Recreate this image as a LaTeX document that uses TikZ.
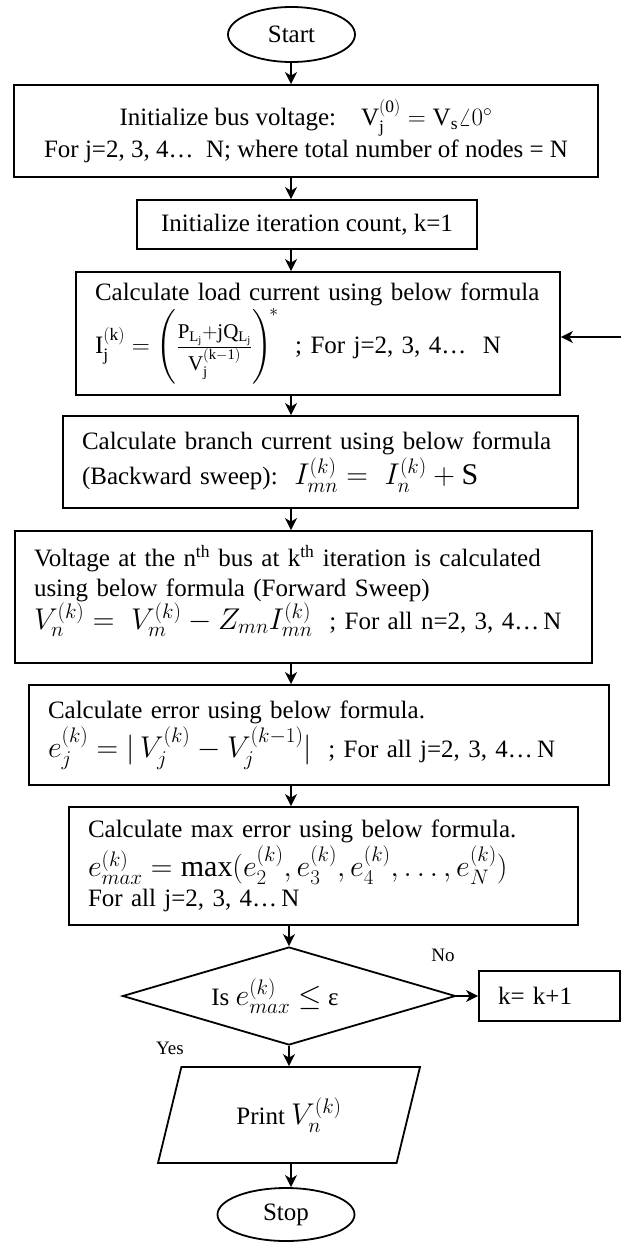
\RequirePackage{fix-cm}
\documentclass[tikz,border=0pt]{standalone}
\usepackage{amsmath}
\usepackage{fontspec}
\setmainfont{Liberation Serif}
\usetikzlibrary{shapes.geometric,arrows.meta}
\newcommand\bigmath[1]{{\fontsize{30}{30}\selectfont$#1$}}
\newcommand\fracpart[1]{\mbox{\fontsize{21}{21}\selectfont$#1$}}
\newcommand\ind{\hspace*{12pt}}
\begin{document}
\begin{tikzpicture}[x=1pt,y=-1pt,
  every node/.style={font=\fontsize{25}{30}\selectfont},
  box/.style={draw, line width=1.8pt, rectangle, inner ysep=0pt},
  lbox/.style={box, inner xsep=7pt, align=left},
  term/.style={draw, line width=1.8pt, ellipse, inner sep=0pt},
  arr/.style={line width=1.6pt, -{Stealth[length=12pt,width=12pt,inset=3.5pt]}},
  lbl/.style={font=\fontsize{19}{22}\selectfont}]
\useasboundingbox (0,0) rectangle (621,1242);
\coordinate (cx) at (291,0);

\node[term, minimum width=127pt, minimum height=55pt] (start) at (291.5,34.5) {Start};

\node[box, minimum width=584pt, minimum height=92pt, align=center] (b1) at (306,131)
 {Initialize bus voltage:\quad $\mathrm{V_j^{(0)}} = \mathrm{V_s}\angle 0^\circ$\\[2pt]
  For j=2, 3, 4…\ \ N; where total number of nodes = N};

\node[box, minimum width=340pt, minimum height=49pt] (b2) at (307,224.5)
 {Initialize iteration count, k=1};

\node[lbox, minimum width=484pt, minimum height=123pt, text width=470pt] (b3) at (318,333.5)
 {\ind Calculate load current using below formula\\[2pt]
  \ind$\mathrm{I_j^{(k)}} = \left(\rule[-27pt]{0pt}{54pt}\frac{\fracpart{\mathrm{P_{L_j}{+}jQ_{L_j}}}}{\fracpart{\mathrm{V_j^{(k-1)}}}}\right)^{\!*}$\ \ ; For j=2, 3, 4…\ \ N};

\node[lbox, minimum width=515pt, minimum height=92pt, text width=501pt] (b4) at (320.5,462)
 {\ind Calculate branch current using below formula\\[2pt]
  \ind(Backward sweep):\ \ \bigmath{I_{mn}^{(k)} = \ I_n^{(k)} + \mathrm{S}}};

\node[lbox, minimum width=577pt, minimum height=132pt, text width=563pt] (b5) at (303.5,597)
 {\ind Voltage at the n\textsuperscript{th} bus at k\textsuperscript{th} iteration is calculated\\
  \ind using below formula (Forward Sweep)\\
  \ind\bigmath{V_n^{(k)} = \ V_m^{(k)} - Z_{mn}I_{mn}^{(k)}}\ \ ; For all n=2, 3, 4…\,N\rule[-20pt]{0pt}{1pt}};

\node[lbox, minimum width=580pt, minimum height=100pt, text width=566pt] (b6) at (319,735)
 {\ind Calculate error using below formula.\\[2pt]
  \ind\bigmath{e_j^{(k)} = |\,V_j^{(k)} - V_j^{(k-1)}|}\ \ ; For all j=2, 3, 4…\,N};

\node[lbox, minimum width=509pt, minimum height=118pt, text width=495pt] (b7) at (323.5,866)
 {\ind Calculate max error using below formula.\\[2pt]
  \ind\bigmath{e_{max}^{(k)} = \max(e_2^{(k)}, e_3^{(k)}, e_4^{(k)}, \dots, e_N^{(k)})}\\
  \ind For all j=2, 3, 4…\,N};

\node[diamond, draw, line width=1.8pt, aspect=3.4, minimum width=333pt, minimum height=98pt, inner sep=0pt] (dia) at (289,996)
 {Is \bigmath{e_{max}^{(k)} \le}\ ε\hspace*{28pt}};

\node[box, minimum width=141pt, minimum height=50pt, inner xsep=19pt, text width=103pt, align=left] (kk) at (549.5,996)
 {k= k+1};

\node[trapezium, draw, line width=1.8pt, trapezium left angle=55.5, trapezium right angle=124.5,
      minimum width=262pt, minimum height=96pt, trapezium stretches body, inner sep=0pt] (pr) at (289,1115)
 {Print \bigmath{V_n^{(k)}}\hspace{34pt}};

\node[term, minimum width=137pt, minimum height=53pt] (stop) at (286,1214.5) {Stop};

\node[lbl] (no) at (443,955) {No};
\node[lbl] (yes) at (170,1048) {Yes};

\draw[arr] (start.south -| cx) -- (b1.north -| cx);
\draw[arr] (b1.south -| cx) -- (b2.north -| cx);
\draw[arr] (b2.south -| cx) -- (b3.north -| cx);
\draw[arr] (b3.south -| cx) -- (b4.north -| cx);
\draw[arr] (b4.south -| cx) -- (b5.north -| cx);
\draw[arr] (b5.south -| cx) -- (b6.north -| cx);
\draw[arr] (b6.south -| cx) -- (b7.north -| cx);
\draw[arr] (b7.south -| dia.north) -- (dia.north);
\draw[arr] (dia.south) -- (pr.north -| dia.south);
\draw[arr] (pr.south -| cx) -- (stop.north -| cx);
\draw[arr] (dia.east) -- (kk.west);
\draw[arr] (kk.east) -- ++(12,0) |- ([yshift=-3.5pt]b3.east);
\end{tikzpicture}
\end{document}
